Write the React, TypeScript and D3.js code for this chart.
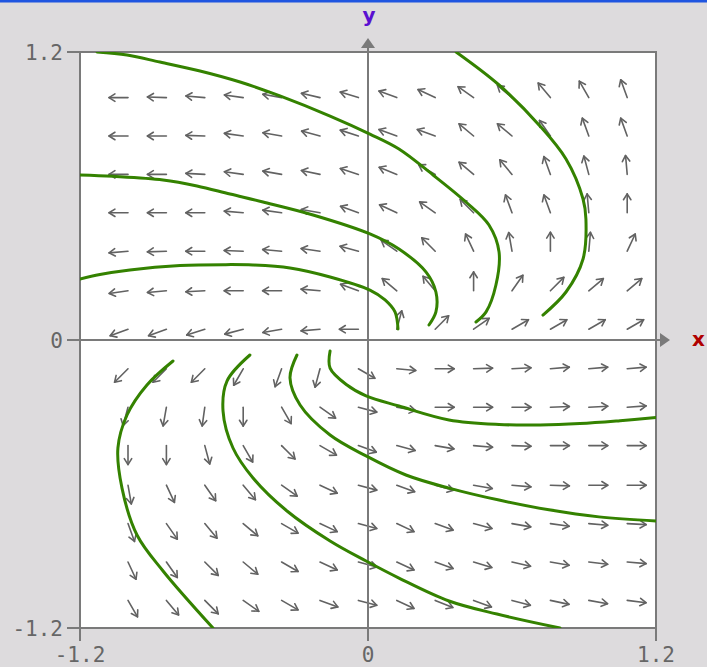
import React from 'react';
import * as d3 from 'd3';

const W = 707;
const H = 667;
const X_DOMAIN: [number, number] = [-1.2, 1.2];
const Y_DOMAIN: [number, number] = [-1.2, 1.2];
const TICKS = [-1.2, 0, 1.2];
const TICK_LABELS = ['-1.2', '0', '1.2'];

// sample points of the direction field (arrow tails), data units
const GRID_X = [-1.0, -0.84, -0.68, -0.52, -0.36, -0.2, -0.04, 0.12, 0.28, 0.44, 0.6, 0.76, 0.92, 1.08];
const GRID_Y = [1.01, 0.85, 0.69, 0.53, 0.37, 0.205, 0.045, -0.12, -0.28, -0.44, -0.605, -0.765, -0.925, -1.085];

// arrow directions in degrees (0 = right, 90 = up), one row per GRID_Y
const ANGLE_ROW_0 = [180, 178, 175, 172, 170, 167, 163, 160, 155, 145, 140, 130, 120, 110];
const ANGLE_ROW_1 = [180, 180, 178, 172, 170, 165, 162, 160, 160, 140, 140, 125, 110, 110];
const ANGLE_ROW_2 = [180, 180, 177, 172, 170, 168, 162, 158, 150, 140, 130, 110, 105, 95];
const ANGLE_ROW_3 = [180, 180, 180, 175, 172, 170, 160, 155, 145, 135, 110, 110, 95, 90];
const ANGLE_ROW_4 = [185, 182, 180, 178, 175, 172, 165, 145, 135, 115, 100, 90, 85, 65];
const ANGLE_ROW_5 = [188, 185, 183, 180, 180, 175, 160, 140, 130, 90, 55, 45, 40, 40];
const ANGLE_ROW_6 = [200, 200, 198, 195, 190, 185, 180, 75, 45, 35, 30, 30, 30, 30];
const ANGLE_ROW_7 = [225, 225, 225, 240, 250, 255, 330, 355, 0, 2, 3, 5, 5, 5];
const ANGLE_ROW_8 = [255, 260, 262, 270, 300, 325, 345, 350, 0, 0, 0, 2, 3, 4];
const ANGLE_ROW_9 = [270, 270, 285, 300, 315, 330, 340, 345, 350, 355, 358, 0, 0, 0];
const ANGLE_ROW_10 = [280, 295, 305, 310, 325, 335, 345, 340, 345, 350, 355, 358, 0, 0];
const ANGLE_ROW_11 = [290, 305, 310, 320, 330, 335, 345, 335, 340, 345, 350, 352, 355, 357];
const ANGLE_ROW_12 = [295, 305, 315, 320, 330, 335, 345, 335, 340, 343, 347, 350, 353, 355];
const ANGLE_ROW_13 = [300, 310, 315, 325, 330, 340, 345, 335, 338, 340, 345, 348, 350, 353];
const ANGLES = [
  ANGLE_ROW_0, ANGLE_ROW_1, ANGLE_ROW_2, ANGLE_ROW_3, ANGLE_ROW_4, ANGLE_ROW_5, ANGLE_ROW_6,
  ANGLE_ROW_7, ANGLE_ROW_8, ANGLE_ROW_9, ANGLE_ROW_10, ANGLE_ROW_11, ANGLE_ROW_12, ANGLE_ROW_13,
];

// solution curves (data units)
const CURVE_A: [number, number][] = [
  [-1.2, 0.254], [-1.117, 0.273], [-0.992, 0.292], [-0.783, 0.31], [-0.6, 0.314], [-0.479, 0.3125],
  [-0.325, 0.3], [-0.158, 0.2625], [0.008, 0.208], [0.071, 0.167], [0.1125, 0.117], [0.125, 0.046],
];
const CURVE_B: [number, number][] = [
  [-1.2, 0.6875], [-1.0625, 0.682], [-0.854, 0.667], [-0.7125, 0.642], [-0.575, 0.608],
  [-0.4375, 0.575], [-0.229, 0.521], [0.008, 0.442], [0.129, 0.379], [0.242, 0.283],
  [0.283, 0.2], [0.283, 0.117], [0.254, 0.0625],
];
const CURVE_C: [number, number][] = [
  [-1.129, 1.2], [-1.004, 1.1875], [-0.867, 1.158], [-0.7, 1.121], [-0.533, 1.075],
  [-0.367, 1.017], [-0.158, 0.933], [0.008, 0.858], [0.129, 0.796], [0.271, 0.6875],
  [0.408, 0.575], [0.504, 0.479], [0.546, 0.367], [0.533, 0.229], [0.492, 0.117], [0.45, 0.075],
];
const CURVE_D: [number, number][] = [
  [0.367, 1.2], [0.546, 1.0625], [0.7125, 0.896], [0.825, 0.754], [0.896, 0.5875],
  [0.908, 0.504], [0.896, 0.3375], [0.825, 0.2], [0.729, 0.104],
];
const CURVE_E: [number, number][] = [
  [-0.8125, -0.0875], [-0.921, -0.1875], [-1.004, -0.3125], [-1.042, -0.45], [-1.025, -0.617],
  [-0.9625, -0.8125], [-0.854, -0.9625], [-0.646, -1.2],
];
const CURVE_F: [number, number][] = [
  [-0.492, -0.0625], [-0.5875, -0.171], [-0.604, -0.296], [-0.5625, -0.45], [-0.479, -0.575],
  [-0.3375, -0.7125], [-0.158, -0.8375], [-0.008, -0.921], [0.129, -0.992], [0.3375, -1.0875],
  [0.5375, -1.142], [0.8, -1.2],
];
const CURVE_G: [number, number][] = [
  [-0.296, -0.0625], [-0.325, -0.158], [-0.283, -0.271], [-0.158, -0.396], [-0.008, -0.483],
  [0.158, -0.5625], [0.3375, -0.617], [0.546, -0.667], [0.754, -0.7075], [0.9625, -0.737], [1.2, -0.754],
];
const CURVE_H: [number, number][] = [
  [-0.158, -0.046], [-0.158, -0.117], [-0.0875, -0.1875], [-0.008, -0.233], [0.129, -0.275],
  [0.3375, -0.333], [0.546, -0.352], [0.717, -0.354], [0.883, -0.348], [1.05, -0.336], [1.2, -0.323],
];
const CURVES = [CURVE_A, CURVE_B, CURVE_C, CURVE_D, CURVE_E, CURVE_F, CURVE_G, CURVE_H];

export default function App() {
  const x = d3.scaleLinear().domain(X_DOMAIN).range([80, 656]);
  const y = d3.scaleLinear().domain(Y_DOMAIN).range([628, 52]);
  const line = d3
    .line<[number, number]>()
    .x((d) => x(d[0]))
    .y((d) => y(d[1]))
    .curve(d3.curveCatmullRom.alpha(0.5));

  const L = 19;
  const HEAD = 7;
  const arrows: JSX.Element[] = [];
  ANGLES.forEach((row, j) => {
    row.forEach((deg, k) => {
      const tx = x(GRID_X[k]);
      const ty = y(GRID_Y[j]);
      const a = (deg * Math.PI) / 180;
      const ux = Math.cos(a);
      const uy = -Math.sin(a);
      const hx = tx + L * ux;
      const hy = ty + L * uy;
      const b = (32 * Math.PI) / 180;
      const bx1 = hx - HEAD * (ux * Math.cos(b) - uy * Math.sin(b));
      const by1 = hy - HEAD * (ux * Math.sin(b) + uy * Math.cos(b));
      const bx2 = hx - HEAD * (ux * Math.cos(-b) - uy * Math.sin(-b));
      const by2 = hy - HEAD * (ux * Math.sin(-b) + uy * Math.cos(-b));
      arrows.push(
        <g key={`a-${j}-${k}`}>
          <line x1={tx} y1={ty} x2={hx} y2={hy} />
          <polyline points={`${bx1},${by1} ${hx},${hy} ${bx2},${by2}`} fill="none" />
        </g>
      );
    });
  });

  const x0 = x(0);
  const y0 = y(0);
  const gray = '#7a7a7a';

  return (
    <svg
      width={W}
      height={H}
      style={{ position: 'absolute', left: 0, top: 0, display: 'block' }}
    >
      <rect x={0} y={0} width={W} height={H} fill="#dddbdd" />
      <rect x={0} y={0} width={W} height={2.5} fill="#1f55e0" />
      <defs>
        <clipPath id="plotclip">
          <rect x={80} y={52} width={576} height={576} />
        </clipPath>
      </defs>
      <rect x={80} y={52} width={576} height={576} fill="#ffffff" />

      <g stroke="#626262" strokeWidth={1.6} strokeLinecap="round" strokeLinejoin="round">
        {arrows}
      </g>

      {/* axes */}
      <g stroke={gray} strokeWidth={2}>
        <rect x={80} y={52} width={576} height={576} fill="none" />
        <line x1={80} y1={y0} x2={662} y2={y0} />
        <line x1={x0} y1={628} x2={x0} y2={44} />
        {TICKS.map((t) => (
          <line key={`ly${t}`} x1={67} y1={y(t)} x2={80} y2={y(t)} />
        ))}
        {TICKS.map((t) => (
          <line key={`bx${t}`} x1={x(t)} y1={628} x2={x(t)} y2={641} />
        ))}
      </g>
      <polygon points={`${670},${y0} ${660},${y0 - 7} ${660},${y0 + 7}`} fill={gray} />
      <polygon points={`${x0},${38} ${x0 - 7},${48} ${x0 + 7},${48}`} fill={gray} />

      <g clipPath="url(#plotclip)" fill="none" stroke="#348200" strokeWidth={3} strokeLinecap="round">
        {CURVES.map((c, i) => (
          <path key={`c${i}`} d={line(c) || ''} />
        ))}
      </g>

      <g fontFamily="'DejaVu Sans Mono', monospace" fontSize={21} fill="#666666">
        {TICKS.map((t, i) => (
          <text key={`tl${t}`} x={63} y={y(t) + 8} textAnchor="end">
            {TICK_LABELS[i]}
          </text>
        ))}
        {TICKS.map((t, i) => (
          <text key={`tb${t}`} x={x(t)} y={662} textAnchor="middle">
            {TICK_LABELS[i]}
          </text>
        ))}
      </g>
      <text x={369} y={22} textAnchor="middle" fontFamily="'DejaVu Sans', sans-serif" fontWeight="bold" fontSize={20} fill="#5a10d0">
        y
      </text>
      <text x={692} y={346} fontFamily="'DejaVu Sans', sans-serif" fontWeight="bold" fontSize={20} fill="#b00000">
        x
      </text>
    </svg>
  );
}
